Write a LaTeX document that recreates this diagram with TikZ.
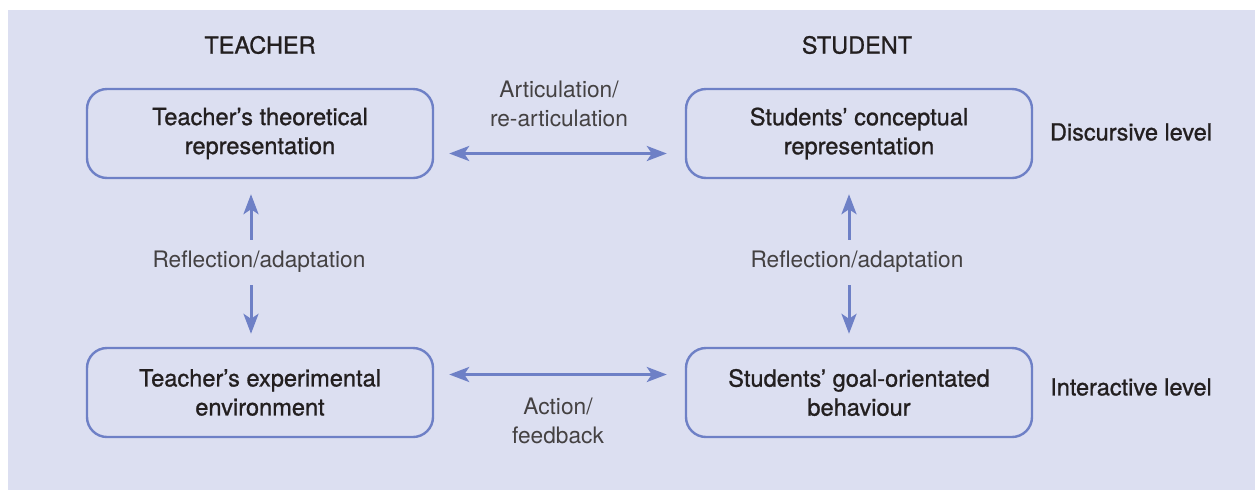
\documentclass[tikz,border=0pt]{standalone}
\usepackage{fontspec}
\setmainfont{TeX Gyre Heros}
\newfontfamily\medfont[FakeBold=1.0]{TeX Gyre Heros}
\usepackage{xcolor}
\usetikzlibrary{arrows.meta, positioning, calc}
\definecolor{bgLilac}{RGB}{220,223,241}
\definecolor{boxBlue}{RGB}{110,128,198}
\definecolor{inkGrey}{RGB}{35,31,32}

\tikzset{
  levelbox/.style={draw=boxBlue, line width=2.4pt, rounded corners=20pt,
    minimum width=346pt, minimum height=89pt, align=center, text=inkGrey,
    font=\medfont\fontsize{23.6}{29}\selectfont},
  lbl/.style={align=center, text=inkGrey!85, font=\fontsize{22.7}{29}\selectfont},
  head/.style={text=inkGrey, font=\medfont\fontsize{23.5}{29}\selectfont},
  linkarrow/.style={draw=boxBlue, line width=3pt,
    -{Stealth[length=20pt, width=15pt, inset=5pt]}},
  twoway/.style={draw=boxBlue, line width=3pt,
    {Stealth[length=20pt, width=15pt, inset=5pt]}-{Stealth[length=20pt, width=15pt, inset=5pt]}},
}

\begin{document}
\begin{tikzpicture}[x=1pt, y=-1pt]
        % Fondo
        \useasboundingbox (0,0) rectangle (1255,491);
        \fill[bgLilac] (8,10) rectangle (1255,490);

        % Encabezados
        \node[head] (teacher) at (260,45) {TEACHER};
        \node[head] (student) at (857,45) {STUDENT};

        % Cajas
        \node[levelbox] (tl) at (260,133.5) {Teacher’s theoretical\\representation};
        \node[levelbox] (tr) at (859,133.5) {Students’ conceptual\\representation};
        \node[levelbox] (bl) at (260,392.5) {Teacher’s experimental\\environment};
        \node[levelbox] (br) at (859,392.5) {Students’ goal-orientated\\behaviour};

        % Niveles
        \node[head] (disc) at (1131,132) {Discursive level};
        \node[head] (inter) at (1131,387) {Interactive level};

        % Etiquetas
        \node[lbl] (artic) at (559,104) {Articulation/\\re-articulation};
        \node[lbl] (action) at (558,421) {Action/\\feedback};
        \node[lbl] (reflT) at (259,262) {Reflection/adaptation};
        \node[lbl] (reflS) at (857,262) {Reflection/adaptation};

        % Flechas horizontales
        \draw[twoway, shorten <=15pt, shorten >=18pt] ([yshift=-20pt]tl.east) -- ([yshift=-20pt]tr.west);
        \draw[twoway, shorten <=15pt, shorten >=18pt] ([yshift=18pt]bl.east) -- ([yshift=18pt]br.west);

        % Flechas verticales
        \draw[linkarrow, shorten <=8pt, shorten >=15pt] ([xshift=-8pt]reflT.north) -- ([xshift=-8pt]reflT.north |- tl.south);
        \draw[linkarrow, shorten <=9pt, shorten >=13pt] ([xshift=-8pt]reflT.south) -- ([xshift=-8pt]reflT.south |- bl.north);
        \draw[linkarrow, shorten <=8pt, shorten >=15pt] ([xshift=-8pt]reflS.north) -- ([xshift=-8pt]reflS.north |- tr.south);
        \draw[linkarrow, shorten <=9pt, shorten >=13pt] ([xshift=-8pt]reflS.south) -- ([xshift=-8pt]reflS.south |- br.north);
    \end{tikzpicture}
\end{document}
